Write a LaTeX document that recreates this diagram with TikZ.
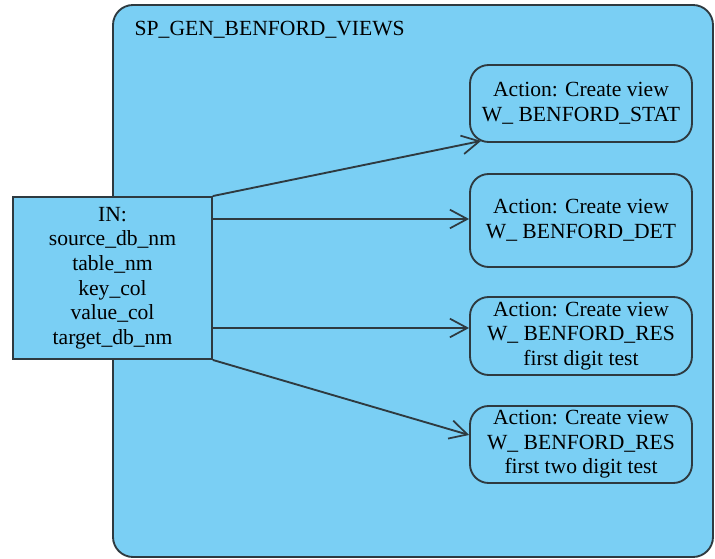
\documentclass[tikz,border=0pt]{standalone}
\usepackage{fontspec}
\setmainfont{Liberation Serif}
\newfontfamily\viewfont{Liberation Serif}
\usetikzlibrary{positioning, arrows.meta, calc}
\definecolor{vBlue}{HTML}{7ACFF4}
\definecolor{vLine}{HTML}{2E3A40}

\begin{document}
\begin{tikzpicture}[x=0.75pt, y=-0.75pt,
  container/.style={draw=vLine, fill=vBlue, line width=1.4pt, rounded corners=15pt,
                    minimum width=450pt, minimum height=414pt},
  inbox/.style={draw=vLine, fill=vBlue, line width=1.4pt, align=center,
                minimum width=149pt, minimum height=121.5pt,
                font=\viewfont\fontsize{16.2}{18.4}\selectfont},
  action/.style={draw=vLine, fill=vBlue, line width=1.4pt, rounded corners=14pt,
                 align=center, minimum width=166.5pt, inner sep=2pt,
                 font=\viewfont\fontsize{16.2}{18.4}\selectfont},
  flow/.style={draw=vLine, line width=1.4pt,
               -{Straight Barb[length=13pt, width=14pt, line width=1.3pt]}},
]
  \useasboundingbox (0,0) rectangle (715,559);

  % container
  \node[container] (proc) at (413,281) {};
  \node[anchor=west, font=\viewfont\fontsize{16.2}{18.4}\selectfont] (title) at (130,30) {SP\_GEN\_BENFORD\_VIEWS};

  % input parameters
  \node[inbox] (in) at (112.5,278) {IN:\\source\_db\_nm\\table\_nm\\key\_col\\value\_col\\target\_db\_nm};

  % actions
  \node[action, minimum height=57.75pt] (s1) at (581,103.5) {Action: Create view\\W\_ BENFORD\_STAT};
  \node[action, minimum height=69.75pt] (s2) at (581,220.5) {Action: Create view\\W\_ BENFORD\_DET};
  \node[action, minimum height=58.5pt] (s3) at (581,336) {Action: Create view\\W\_ BENFORD\_RES\\first digit test};
  \node[action, minimum height=57.75pt] (s4) at (581,444.5) {Action: Create view\\W\_ BENFORD\_RES\\first two digit test};

  % connectors
  \coordinate (t1) at ($(s1.south west)+(12,-2)$);
  \coordinate (t2) at ($(s2.west)+(0,-1.5)$);
  \coordinate (t3) at ($(s3.west)+(0,-8)$);
  \coordinate (t4) at ($(s4.west)+(0,-9.5)$);
  \draw[flow] (in.north east) -- (t1);
  \draw[flow] (in.east |- t2) -- (t2);
  \draw[flow] (in.east |- t3) -- (t3);
  \draw[flow] (in.south east) -- (t4);
\end{tikzpicture}
\end{document}
